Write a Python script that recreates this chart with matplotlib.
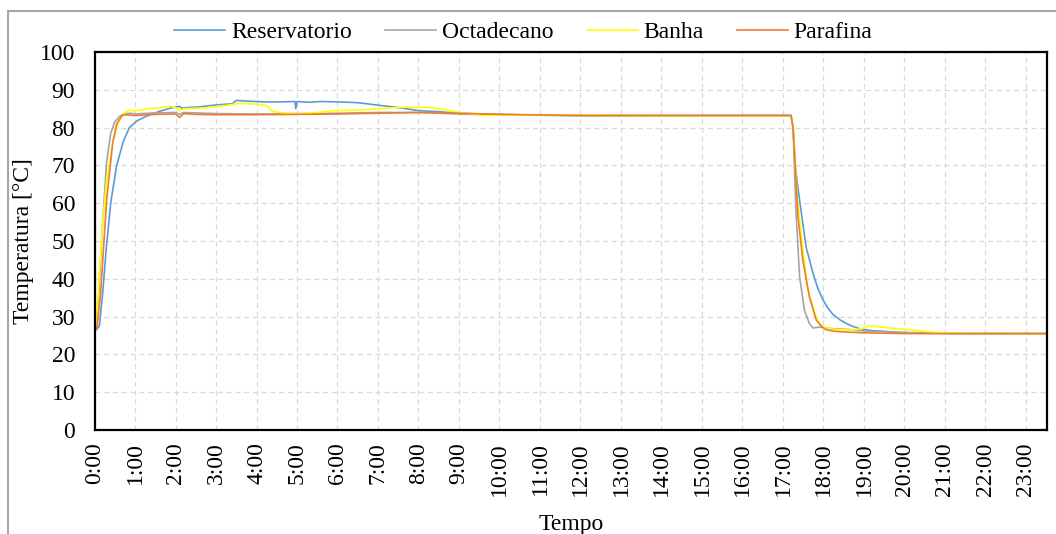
import matplotlib
matplotlib.use("Agg")
import matplotlib.pyplot as plt
from matplotlib.patches import Rectangle

plt.rcParams["font.family"] = ["Liberation Serif", "DejaVu Serif"]
plt.rcParams["font.size"] = 17

# time in hours, temperature in degC
res_h = [0, 0.05, 0.12, 0.2, 0.29, 0.4, 0.54, 0.7, 0.86, 1.05, 1.28, 1.6, 1.93, 2.1, 2.15,
         2.6, 3.0, 3.4, 3.5, 3.8, 4.2, 4.6, 4.95, 4.97, 5.0, 5.3, 5.6, 6.0, 6.5, 6.95,
         7.5, 8.0, 8.5, 9.0, 9.5, 10.0, 11.0, 12.0, 14.0, 16.0, 17.2, 17.25, 17.3, 17.41,
         17.57, 17.74, 17.86, 17.99, 18.1, 18.23, 18.4, 18.56, 18.7, 18.89, 19.2, 19.9,
         20.5, 21.5, 23.5]
res_t = [27, 26.5, 27.5, 36, 48, 60, 69.6, 76, 80, 81.8, 83, 84.3, 85.3, 85.6, 85.2,
         85.5, 86, 86.3, 87.2, 87, 86.8, 86.8, 86.9, 85.0, 86.9, 86.7, 86.9, 86.8, 86.6, 86.0,
         85.3, 84.5, 84.2, 83.8, 83.6, 83.5, 83.3, 83.2, 83.2, 83.2, 83.2, 80, 70, 60.8,
         48.5, 41.5, 37.5, 34.4, 32.4, 30.6, 29.2, 28.2, 27.5, 26.8, 26.3, 25.8,
         25.6, 25.5, 25.5]

oct_h = [0, 0.04, 0.1, 0.2, 0.3, 0.4, 0.5, 0.62, 0.75, 0.9, 1.0, 1.5, 2.0, 2.1, 2.2,
         3, 4, 5, 6, 7, 8, 9, 10, 12, 14, 16, 17.2, 17.25, 17.32, 17.41, 17.53, 17.65,
         17.74, 17.9, 18.2, 18.6, 19.0, 19.5, 20.0, 21, 23.5]
oct_t = [27, 27, 35, 55, 71, 78.5, 81.5, 83, 83.7, 83.8, 83.6, 83.9, 84, 83.5, 84,
         83.7, 83.6, 83.7, 83.8, 84, 84, 83.6, 83.3, 83.2, 83.2, 83.2, 83.2, 80, 58, 40.6, 31.7, 28.2,
         27, 27.2, 26.8, 26.6, 26.2, 26, 25.8, 25.6, 25.5]

ban_h = [0, 0.04, 0.1, 0.2, 0.3, 0.45, 0.6, 0.75, 0.86, 1.0, 1.3, 1.6, 1.85, 2.0, 2.1,
         2.2, 2.7, 3.2, 3.58, 4.0, 4.24, 4.4, 4.6, 5.0, 5.5, 5.94, 6.5, 6.93, 7.3, 7.7,
         8.3, 8.9, 9.6, 10, 12, 14, 16, 17.2, 17.25, 17.35, 17.49, 17.6, 17.74, 17.85, 17.99,
         18.3, 18.7, 18.95, 19.1, 19.3, 19.6, 20.15, 20.5, 20.95, 21.5, 23.5]
ban_t = [27, 27, 38, 55, 66, 76, 82, 84, 84.6, 84.4, 85, 85.2, 85.7, 85.3, 84.5,
         85, 85.2, 85.8, 86.4, 86.2, 85.8, 84.3, 84, 83.6, 84, 84.5, 84.6, 84.9, 85.2, 85.4,
         85.3, 84.2, 83.2, 83.3, 83.3, 83.2, 83.1, 83.1, 81, 62, 48, 38, 32.6, 29, 27.2,
         26.6, 26.4, 26.8, 27.5, 27.4, 27, 26.5, 26.1, 25.7, 25.6, 25.5]

par_h = [0, 0.06, 0.15, 0.3, 0.45, 0.55, 0.69, 0.8, 1.0, 1.5, 2.0, 2.1, 2.2, 2.5,
         3, 4, 5, 6, 7, 8, 9, 10, 12, 14, 16, 17.2, 17.25, 17.37, 17.49, 17.65, 17.82,
         17.95, 18.07, 18.3, 18.56, 19, 20, 21, 23.5]
par_t = [27, 27, 36, 61, 76, 81, 83.3, 83.4, 83.2, 83.5, 83.6, 82.7, 83.7, 83.5,
         83.4, 83.4, 83.5, 83.6, 83.8, 84, 83.8, 83.5, 83.2, 83.2, 83.2, 83.2, 80, 56.4, 45, 35.3, 29.1,
         27.4, 26.5, 26.1, 25.9, 25.7, 25.5, 25.5, 25.5]

hour_ticks = list(range(24))
hour_labels = [f"{h}:00" for h in hour_ticks]
y_ticks = list(range(0, 101, 10))

fig = plt.figure(figsize=(10.56, 5.34), dpi=100)
ax = fig.add_axes([0.0895, 0.1948, 0.9020, 0.7078])

# outer chart frame
fig.patches.append(Rectangle((8 / 1056, -0.1), 1.2, 1 - 11 / 534 + 0.1,
                             transform=fig.transFigure, fill=False,
                             edgecolor="#A6A6A6", linewidth=1.5))

ax.plot(res_h, res_t, color="#5B9BD5", lw=1.2, label="Reservatorio")
ax.plot(oct_h, oct_t, color="#A5A5A5", lw=1.2, label="Octadecano")
ax.plot(ban_h, ban_t, color="#FFFF00", lw=1.2, label="Banha")
ax.plot(par_h, par_t, color="#ED7D31", lw=1.2, label="Parafina")

ax.set_xlim(0, 23.52)
ax.set_ylim(0, 100)
ax.set_xticks(hour_ticks)
ax.set_xticklabels(hour_labels, rotation=90)
ax.set_yticks(y_ticks)
ax.tick_params(axis="x", length=0, pad=9)
ax.tick_params(axis="y", length=0, pad=14)
ax.grid(True, color="#D9D9D9", linestyle=(0, (4, 3)), linewidth=0.9)
ax.set_axisbelow(True)
for sp in ax.spines.values():
    sp.set_linewidth(1.6)
    sp.set_color("black")

ax.set_xlabel("Tempo")
ax.set_ylabel("Temperatura [°C]")
ax.xaxis.set_label_coords(0.5, -0.222)
ax.yaxis.set_label_coords(-0.064, 0.5)

fig.legend(loc="center", bbox_to_anchor=(0.4957, 0.94), ncol=4, frameon=False,
           handlelength=2.16, columnspacing=1.4, handletextpad=0.25)

fig.savefig("out.png", dpi=100)
